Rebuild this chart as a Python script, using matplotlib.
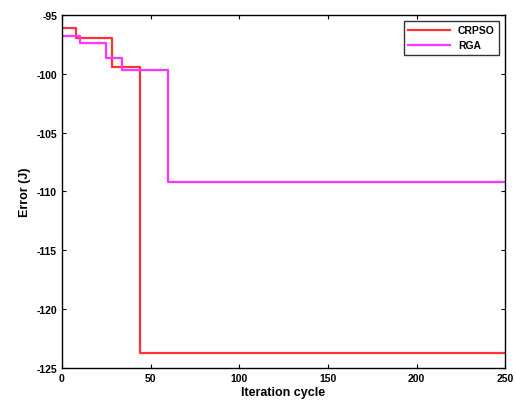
import matplotlib
matplotlib.use("Agg")
import matplotlib.pyplot as plt

# step data (iteration, error)
crpso_x = [0, 8, 28, 44, 250]
crpso_y = [-96.1, -97.0, -99.4, -123.7, -123.7]
rga_x = [0, 10, 25, 34, 60, 250]
rga_y = [-96.8, -97.4, -98.7, -99.7, -109.2, -109.2]

xticks = [0, 50, 100, 150, 200, 250]
yticks = [-125, -120, -115, -110, -105, -100, -95]

plt.rcParams['font.family'] = ['Liberation Sans', 'DejaVu Sans']
plt.rcParams['axes.unicode_minus'] = False

fig = plt.figure(figsize=(5.16, 4.06), dpi=100)
ax = fig.add_axes([0.12, 0.091, 0.859, 0.870])
ax.plot(crpso_x, crpso_y, drawstyle='steps-post', color='#ff3333', lw=1.6, label='CRPSO')
ax.plot(rga_x, rga_y, drawstyle='steps-post', color='#ff33ff', lw=1.6, label='RGA')
ax.set_xlim(0, 250)
ax.set_ylim(-125, -95)
ax.set_xticks(xticks)
ax.set_yticks(yticks)
ax.tick_params(direction='in', labelsize=7.5, length=3, top=True, right=True)
for s in ax.spines.values():
    s.set_linewidth(1.0)
ax.set_xlabel('Iteration cycle', fontsize=9, fontweight='bold', labelpad=2)
ax.set_ylabel('Error (J)', fontsize=9, fontweight='bold', labelpad=4)
for lbl in ax.get_xticklabels() + ax.get_yticklabels():
    lbl.set_fontweight('bold')
leg = ax.legend(loc='upper right', fontsize=7.5, frameon=True, fancybox=False,
                edgecolor='black', handlelength=4.0, borderaxespad=0.6)
leg.get_frame().set_linewidth(1.0)
for t in leg.get_texts():
    t.set_fontweight('bold')
fig.savefig('out.png', dpi=100)
